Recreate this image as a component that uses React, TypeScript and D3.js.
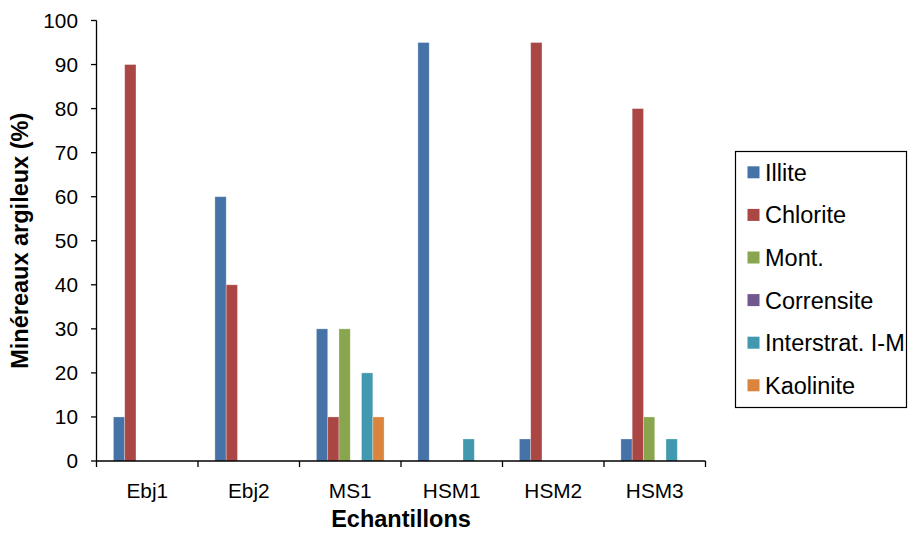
import React from "react";
import * as d3 from "d3";

const categories = ["Ebj1", "Ebj2", "MS1", "HSM1", "HSM2", "HSM3"];
const seriesNames = ["Illite", "Chlorite", "Mont.", "Corrensite", "Interstrat. I-M", "Kaolinite"];
const illite = [10, 60, 30, 95, 5, 5];
const chlorite = [90, 40, 10, 0, 95, 80];
const mont = [0, 0, 30, 0, 0, 10];
const corrensite = [0, 0, 0, 0, 0, 0];
const interstrat = [0, 0, 20, 5, 0, 5];
const kaolinite = [0, 0, 10, 0, 0, 0];
const seriesValues = [illite, chlorite, mont, corrensite, interstrat, kaolinite];
const colors = ["#4572A7", "#AA4643", "#89A54E", "#71588F", "#4198AF", "#DB843D"];
const yTicks = [0, 10, 20, 30, 40, 50, 60, 70, 80, 90, 100];

const W = 908;
const H = 534;
const left = 96.5;
const right = 705.5;
const top = 20.5;
const bottom = 461;
const FONT = "'Liberation Sans', Arial, sans-serif";

export default function App() {
  const x0 = d3.scaleBand<string>().domain(categories).range([left, right]).padding(0);
  const bw = x0.bandwidth();
  const x1 = d3
    .scaleBand<string>()
    .domain(seriesNames)
    .range([(bw * 1.5) / 9, (bw * 7.5) / 9])
    .padding(0);
  const y = d3.scaleLinear().domain([0, 100]).range([bottom, top]);

  const boundaries = [...categories.map((c) => x0(c) as number), right];

  const legendX = 735.5;
  const legendY = 151.5;
  const legendW = 171;
  const legendH = 256;
  const rowGap = 42.6;
  const firstRow = 172.3;

  return (
    <div style={{ position: "fixed", left: 0, top: 0 }}>
      <svg width={W} height={H} style={{ display: "block", background: "#fff" }}>
        {/* bars */}
        {categories.map((c, ci) => (
          <g key={c} transform={`translate(${x0(c)},0)`}>
            {seriesNames.map((s, si) => {
              const v = seriesValues[si][ci];
              if (!v) return null;
              return (
                <rect
                  key={s}
                  x={x1(s)}
                  y={y(v)}
                  width={x1.bandwidth()}
                  height={y(0) - y(v)}
                  fill={colors[si]}
                  stroke="#ffffff"
                  strokeOpacity={0.35}
                  strokeWidth={0.8}
                />
              );
            })}
          </g>
        ))}

        {/* y axis */}
        <line x1={left} x2={left} y1={top} y2={bottom} stroke="#000" strokeWidth={1.3} />
        {yTicks.map((t) => (
          <g key={t}>
            <line x1={left - 5.5} x2={left} y1={y(t)} y2={y(t)} stroke="#000" strokeWidth={1.3} />
            <text
              x={78}
              y={y(t)}
              dy="0.36em"
              textAnchor="end"
              fontFamily={FONT}
              fontSize={20.8}
              fill="#000"
            >
              {t}
            </text>
          </g>
        ))}

        {/* x axis */}
        <line x1={left} x2={right} y1={bottom} y2={bottom} stroke="#000" strokeWidth={1.3} />
        {boundaries.map((bx, i) => (
          <line key={i} x1={bx} x2={bx} y1={bottom} y2={bottom + 6} stroke="#000" strokeWidth={1.3} />
        ))}
        {categories.map((c) => (
          <text
            key={c}
            x={(x0(c) as number) + bw / 2}
            y={491}
            dy="0.36em"
            textAnchor="middle"
            fontFamily={FONT}
            fontSize={20.8}
            fill="#000"
          >
            {c}
          </text>
        ))}

        {/* axis titles */}
        <text
          x={(left + right) / 2}
          y={519}
          dy="0.36em"
          textAnchor="middle"
          fontFamily={FONT}
          fontWeight="bold"
          fontSize={23.5}
          fill="#000"
        >
          Echantillons
        </text>
        <text
          transform={`translate(20,${(top + bottom) / 2}) rotate(-90)`}
          dy="0.36em"
          textAnchor="middle"
          fontFamily={FONT}
          fontWeight="bold"
          fontSize={23.5}
          fill="#000"
        >
          Minéreaux argileux (%)
        </text>

        {/* legend */}
        <rect
          x={legendX}
          y={legendY}
          width={legendW}
          height={legendH}
          fill="#fff"
          stroke="#000"
          strokeWidth={1.2}
        />
        {seriesNames.map((s, i) => {
          const cy = firstRow + i * rowGap;
          return (
            <g key={s}>
              <rect x={747.5} y={cy - 6} width={12} height={12} fill={colors[i]} />
              <text x={765} y={cy} dy="0.36em" fontFamily={FONT} fontSize={23.5} fill="#000">
                {s}
              </text>
            </g>
          );
        })}
      </svg>
    </div>
  );
}
